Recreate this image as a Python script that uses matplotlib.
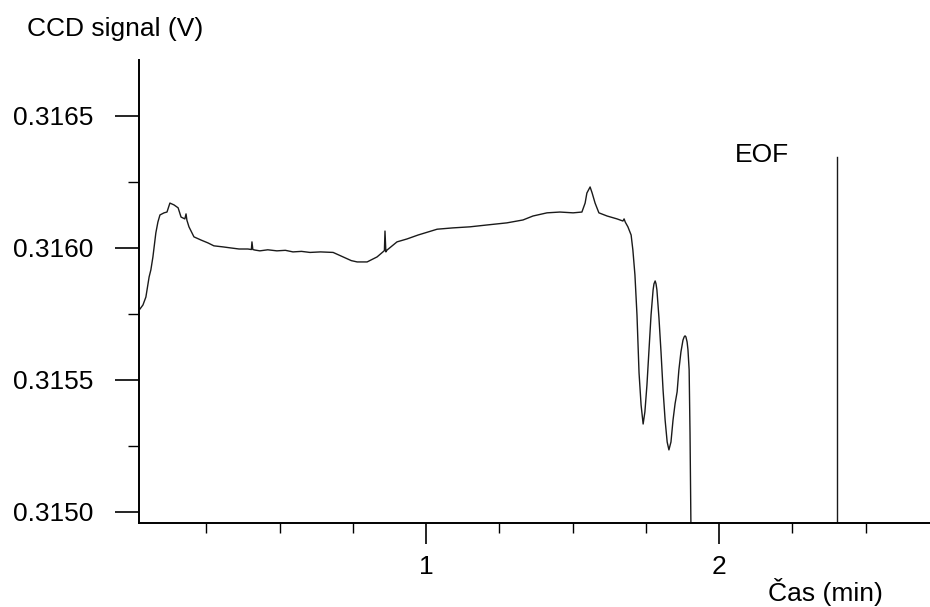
import matplotlib
matplotlib.use("Agg")
import matplotlib.pyplot as plt
from matplotlib.ticker import FixedLocator

plt.rcParams['font.family'] = ['Liberation Sans', 'DejaVu Sans']

# Time (min)
time = [0.024, 0.034, 0.044, 0.055, 0.061, 0.068, 0.078, 0.085, 0.092, 0.106,
        0.116, 0.126, 0.140, 0.154, 0.164, 0.177, 0.181, 0.184, 0.191, 0.208,
        0.232, 0.256, 0.276, 0.307, 0.334, 0.362, 0.392, 0.404, 0.406, 0.409,
        0.416, 0.433, 0.460, 0.491, 0.520, 0.546, 0.575, 0.604, 0.640, 0.683,
        0.717, 0.745, 0.765, 0.799, 0.833, 0.853, 0.858, 0.860, 0.863, 0.867,
        0.901, 0.935, 0.973, 1.038, 1.092, 1.150, 1.208, 1.276, 1.331, 1.365,
        1.413, 1.457, 1.502, 1.532, 1.543, 1.549, 1.560, 1.567, 1.577, 1.590,
        1.618, 1.652, 1.672, 1.676, 1.680, 1.689, 1.700, 1.706, 1.713, 1.720,
        1.727, 1.734, 1.741, 1.747, 1.754, 1.761, 1.768, 1.775, 1.778, 1.782,
        1.785, 1.788, 1.795, 1.802, 1.809, 1.816, 1.823, 1.829, 1.836, 1.843,
        1.850, 1.857, 1.863, 1.870, 1.877, 1.881, 1.884, 1.887, 1.891, 1.894,
        1.898, 1.901, 1.904, 1.905]

# CCD signal (V)
signal = [0.315769, 0.315784, 0.315814, 0.315890, 0.315917, 0.315966, 0.316057, 0.316098, 0.316125, 0.316133,
          0.316136, 0.316170, 0.316163, 0.316152, 0.316117, 0.316110, 0.316129, 0.316105, 0.316080, 0.316042,
          0.316030, 0.316019, 0.316008, 0.316004, 0.316000, 0.315996, 0.315996, 0.315994, 0.316023, 0.315994,
          0.315992, 0.315989, 0.315993, 0.315989, 0.315991, 0.315985, 0.315987, 0.315983, 0.315985, 0.315983,
          0.315966, 0.315952, 0.315947, 0.315947, 0.315966, 0.315985, 0.315990, 0.316064, 0.315985, 0.315992,
          0.316023, 0.316034, 0.316049, 0.316071, 0.316076, 0.316080, 0.316087, 0.316095, 0.316106, 0.316121,
          0.316133, 0.316136, 0.316133, 0.316136, 0.316170, 0.316208, 0.316231, 0.316208, 0.316170, 0.316133,
          0.316121, 0.316110, 0.316102, 0.316110, 0.316098, 0.316080, 0.316049, 0.315992, 0.315898, 0.315746,
          0.315527, 0.315405, 0.315333, 0.315379, 0.315481, 0.315614, 0.315746, 0.315841, 0.315864, 0.315875,
          0.315864, 0.315841, 0.315735, 0.315606, 0.315462, 0.315348, 0.315265, 0.315235, 0.315265, 0.315348,
          0.315410, 0.315455, 0.315538, 0.315606, 0.315651, 0.315663, 0.315667, 0.315663, 0.315644, 0.315614,
          0.315538, 0.315299, 0.314958, 0.314900]

eof_time = 2.403
eof_top = 0.316345

xlim = (0.0205, 2.720)
ylim = (0.314958, 0.316712)

FS = 19

fig = plt.figure(figsize=(9.30, 6.07), dpi=100)
ax = fig.add_axes([139/930, 1-523/607, 1-139/930, (523-60)/607])

ax.plot(time, signal, color='#1a1a1a', linewidth=1.0)
ax.plot([eof_time, eof_time], [ylim[0], eof_top], color='#1a1a1a', linewidth=1.0)
ax.text(2.055, 0.316352, 'EOF', fontsize=FS, ha='left', va='center')

ax.set_xlim(*xlim)
ax.set_ylim(*ylim)

for s in ['top', 'right']:
    ax.spines[s].set_visible(False)
for s in ['left', 'bottom']:
    ax.spines[s].set_linewidth(1.4)

ax.xaxis.set_major_locator(FixedLocator([1, 2]))
ax.xaxis.set_minor_locator(FixedLocator([0.25, 0.5, 0.75, 1.25, 1.5, 1.75, 2.25, 2.5]))
ax.set_xticklabels(['1', '2'])
ax.yaxis.set_major_locator(FixedLocator([0.3150, 0.3155, 0.3160, 0.3165]))
ax.yaxis.set_minor_locator(FixedLocator([0.31525, 0.31575, 0.31625]))
ax.set_yticklabels(['0.3150', '0.3155', '0.3160', '0.3165'])

ax.tick_params(axis='y', which='major', length=17, width=1.2, pad=16, labelsize=FS)
ax.tick_params(axis='y', which='minor', length=8, width=1.0)
ax.tick_params(axis='x', which='major', length=15, width=1.2, pad=8, labelsize=FS)
ax.tick_params(axis='x', which='minor', length=7.5, width=1.0)

fig.text(27/930, 1-36/607, 'CCD signal (V)', fontsize=FS, ha='left', va='baseline')
fig.text(768/930, 1-601/607, 'Čas (min)', fontsize=FS, ha='left', va='baseline')

fig.savefig('out.png', dpi=100)
